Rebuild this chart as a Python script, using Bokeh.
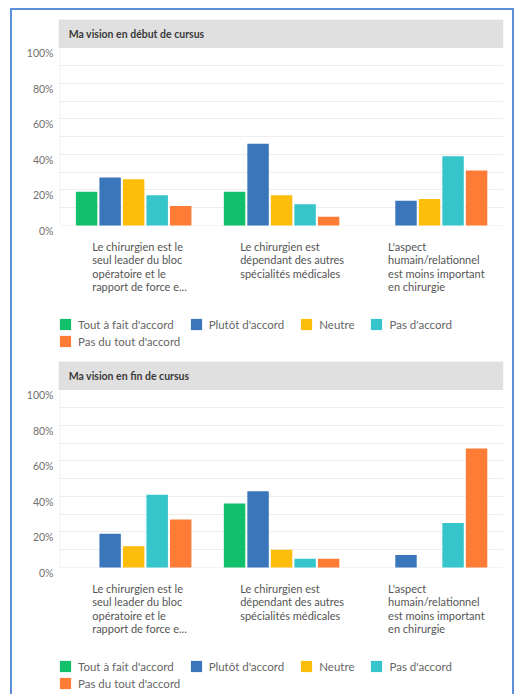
import numpy as np
from bokeh.plotting import figure
from bokeh.models import (FixedTicker, Legend, LegendItem, BoxAnnotation, Label,
                          Range1d)
from bokeh.layouts import column
from bokeh.embed import file_html
from bokeh.resources import INLINE

# ---------------- data ----------------
categories = [
    "Le chirurgien est le seul leader du bloc opératoire et le rapport de force e...",
    "Le chirurgien est dépendant des autres spécialités médicales",
    "L'aspect humain/relationnel est moins important en chirurgie",
]
category_labels = [
    "Le chirurgien est le\nseul leader du bloc\nopératoire et le\nrapport de force e...",
    "Le chirurgien est\ndépendant des autres\nspécialités médicales",
    "L'aspect\nhumain/relationnel\nest moins important\nen chirurgie",
]
series_names = ["Tout à fait d'accord", "Plutôt d'accord", "Neutre", "Pas d'accord",
                "Pas du tout d'accord"]
series_colors = ["#12bf6b", "#3b76bb", "#fdbd0b", "#36c5cb", "#ff7c37"]

chart_titles = ["Ma vision en début de cursus", "Ma vision en fin de cursus"]

# Ma vision en début de cursus (%)
debut_tout_a_fait = [19, 19, 0]
debut_plutot = [27, 46, 14]
debut_neutre = [26, 17, 15]
debut_pas = [17, 12, 39]
debut_pas_du_tout = [11, 5, 31]

# Ma vision en fin de cursus (%)
fin_tout_a_fait = [0, 36, 0]
fin_plutot = [19, 43, 7]
fin_neutre = [12, 10, 0]
fin_pas = [41, 5, 25]
fin_pas_du_tout = [27, 5, 67]

y_ticks = [0, 20, 40, 60, 80, 100]
y_tick_labels = ["0%", "20%", "40%", "60%", "80%", "100%"]
grid_ticks = [10, 20, 30, 40, 50, 60, 70, 80, 90, 100]

FONT = "Lato"


def make_chart(title, series):
    y_max = 116      # top of the grey header band
    y_min = -71.5    # room below the baseline for labels and legend
    p = figure(frame_width=445, frame_height=333,
               x_range=Range1d(-0.008, len(categories)), y_range=Range1d(y_min, y_max),
               output_backend="svg", toolbar_location=None,
               min_border_left=46, min_border_right=9, min_border_top=9,
               min_border_bottom=0,
               background_fill_color="white", border_fill_color="white",
               outline_line_color=None)

    p.add_layout(BoxAnnotation(bottom=100, fill_color="#e0e0e0", fill_alpha=1,
                               line_color=None, level="underlay"))
    # left rule + baseline of the plot area
    p.add_layout(BoxAnnotation(left=0, right=len(categories) + 0.5, bottom=0,
                               fill_alpha=0, line_color="#d9d9d9", line_width=1,
                               level="underlay"))
    p.add_layout(Label(x=0, y=(100 + y_max) / 2, x_offset=9, text=title,
                       text_baseline="middle", text_font_size="10.5px",
                       text_font_style="bold", text_color="#3a3a3a",
                       text_font=FONT))

    centers = np.arange(len(categories)) + 0.5
    step = 0.159
    renderers = []
    for k, (vals, color) in enumerate(zip(series, series_colors)):
        xs = centers + (k - (len(series) - 1) / 2) * step
        r = p.vbar(x=xs, top=vals, width=0.145, fill_color=color, line_color=None)
        renderers.append(r)

    # y axis: labels sit slightly below their grid line
    shifted = [v - 3 for v in y_ticks]
    p.yaxis.ticker = FixedTicker(ticks=shifted)
    p.yaxis.major_label_overrides = {s: t for s, t in zip(shifted, y_tick_labels)}
    p.yaxis.axis_line_color = None
    p.yaxis.major_tick_line_color = None
    p.yaxis.minor_tick_line_color = None
    p.yaxis.major_tick_out = 0
    p.yaxis.major_tick_in = 0
    p.yaxis.major_label_text_font_size = "10.5px"
    p.yaxis.major_label_text_color = "#707070"
    p.yaxis.major_label_text_font = FONT
    p.yaxis.major_label_standoff = 5

    p.ygrid.ticker = FixedTicker(ticks=grid_ticks)
    p.ygrid.grid_line_color = "#eeeeee"
    p.xgrid.grid_line_color = None
    p.xaxis.visible = False

    for c, lbl in zip(centers, category_labels):
        p.add_layout(Label(x=c - 0.28, y=0, y_offset=-14, text=lbl,
                           text_align="left", text_baseline="top",
                           text_font_size="11px", text_color="#555555",
                           text_font=FONT, text_line_height=1.05))

    common = dict(orientation="horizontal", spacing=15,
                  padding=0, margin=0, glyph_width=14, glyph_height=14,
                  label_height=14, label_width=10,
                  label_standoff=6, label_text_font_size="11.5px",
                  label_text_color="#666666", label_text_font=FONT,
                  border_line_color=None, background_fill_alpha=0)
    leg1 = Legend(items=[LegendItem(label=n, renderers=[r])
                         for n, r in zip(series_names[:4], renderers[:4])],
                  location=(0, 21), **common)
    leg2 = Legend(items=[LegendItem(label=series_names[4], renderers=[renderers[4]])],
                  location=(0, 4), **common)
    p.add_layout(leg1, "center")
    p.add_layout(leg2, "center")
    return p


p1 = make_chart(chart_titles[0], [debut_tout_a_fait, debut_plutot, debut_neutre,
                                  debut_pas, debut_pas_du_tout])
p2 = make_chart(chart_titles[1], [fin_tout_a_fait, fin_plutot, fin_neutre,
                                  fin_pas, fin_pas_du_tout])

layout = column(p1, p2, styles={"margin-left": "10px", "margin-top": "8px",
                                "border-left": "2px solid #5b8fd8",
                                "border-top": "2px solid #5b8fd8",
                                "border-right": "2px solid #5b8fd8"})

open("out.html", "w").write(file_html(layout, INLINE))
